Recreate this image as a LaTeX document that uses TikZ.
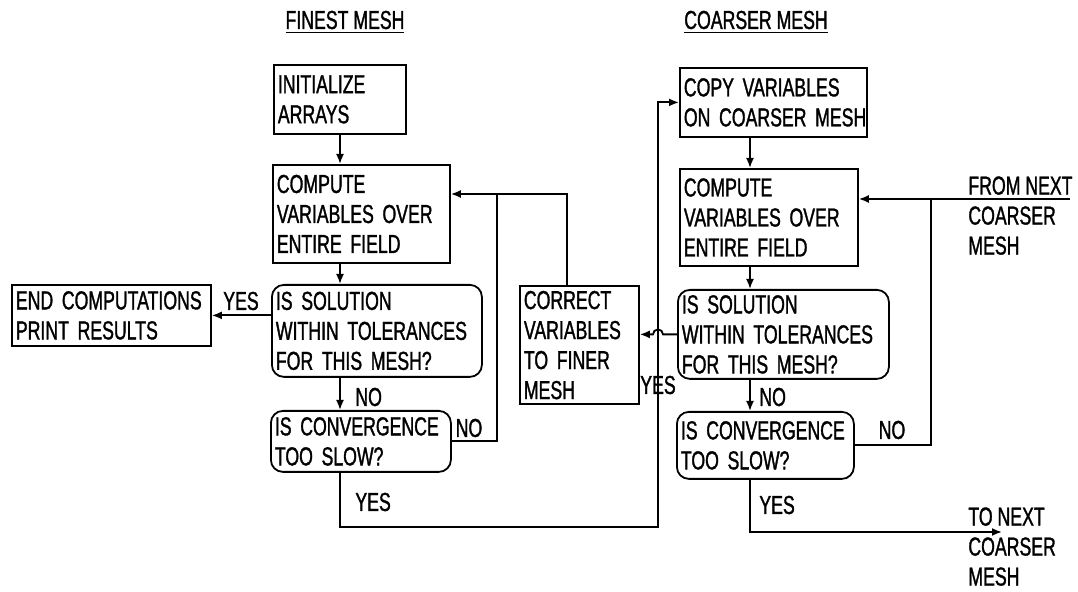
\documentclass[tikz,border=0pt]{standalone}
\usepackage{fontspec}
\newfontfamily\meshfont{Liberation Sans}[FakeStretch=0.68,FakeBold=1.2]
\newcommand\meshtext{\meshfont\fontsize{13pt}{15pt}\selectfont\hyphenpenalty=10000\relax}
\usetikzlibrary{arrows.meta,calc}

\begin{document}
\begin{tikzpicture}[
  x=0.5pt, y=-0.5pt,
  box/.style={draw, line width=0.9pt, anchor=north west, align=left,
              inner xsep=2pt, inner ysep=2.5pt, font=\meshtext},
  query/.style={box, rounded corners=6pt},
  note/.style={font=\meshtext, inner sep=0pt},
  arrow/.style={-{Latex[length=5pt,width=4pt]}, line width=0.9pt},
  link/.style={line width=0.9pt}
]
\useasboundingbox (0,0) rectangle (1078,592);
% column headings
\node[note] (hfine) at (345,22) {\underline{FINEST MESH}};
\node[note] (hcoarse) at (756,22) {\underline{COARSER MESH}};

% finest mesh
\node[box, text width=62pt, minimum height=34.5pt] (init) at (273,64) {INITIALIZE\\ARRAYS};
\node[box, text width=84.5pt, minimum height=49pt] (compf) at (272,164) {COMPUTE\\VARIABLES~OVER\\ENTIRE~FIELD};
\node[query, text width=101pt, minimum height=46pt] (solf) at (271,284) {IS~SOLUTION\\WITHIN~TOLERANCES\\FOR~THIS~MESH?};
\node[query, text width=86pt, minimum height=30.5pt] (convf) at (270,410) {IS~CONVERGENCE\\TOO~SLOW?};
\node[box, text width=95.5pt, minimum height=30.5pt] (endc) at (11,284) {END~COMPUTATIONS\\PRINT~RESULTS};
\node[box, text width=55.5pt, minimum height=58.5pt] (corr) at (519,285) {CORRECT\\VARIABLES\\TO~FINER\\MESH};

% coarser mesh
\node[box, text width=89.5pt, minimum height=34.5pt] (copy) at (679,67) {COPY~VARIABLES\\ON~COARSER~MESH};
\node[box, text width=85pt, minimum height=48.5pt] (compc) at (679,168) {COMPUTE\\VARIABLES~OVER\\ENTIRE~FIELD};
\node[query, text width=101.5pt, minimum height=44.5pt] (solc) at (677,289) {IS~SOLUTION\\WITHIN~TOLERANCES\\FOR~THIS~MESH?};
\node[query, text width=84.5pt, minimum height=33.5pt] (convc) at (676,411) {IS~CONVERGENCE\\TOO~SLOW?};
\node[note, align=left, anchor=north west] (fromnext) at (968,176) {FROM NEXT\\COARSER\\MESH};
\node[note, align=left, anchor=north west] (tonext) at (968,507) {TO NEXT\\COARSER\\MESH};

% branch labels
\node[note] (yes1) at (241,301) {YES};
\node[note, anchor=west] (no1) at (355,397) {NO};
\node[note] (no2) at (469,428) {NO};
\node[note, anchor=west] (yes2) at (355,502) {YES};
\node[note] (yes3) at (658,385) {YES};
\node[note, anchor=west] (no3) at (759,397) {NO};
\node[note] (no4) at (892,430) {NO};
\node[note, anchor=west] (yes4) at (759,505) {YES};

% flow lines
\coordinate (colf) at (340,0);
\coordinate (colc) at (750,0);
\coordinate (fjoin) at (497,194);
\coordinate (fback) at (567,194);
\coordinate (yesloop) at (658,527);
\coordinate (cjoin) at (931,199);
\coordinate (cin) at (1070,199);
\coordinate (cout) at (1002,532);

\draw[arrow] (init.south -| colf) -- (compf.north -| colf);
\draw[arrow] (compf.south -| colf) -- (solf.north -| colf);
\draw[arrow] (solf.south -| colf) -- (convf.north -| colf);
\draw[arrow] (solf.west |- endc.east) -- (endc.east);
\draw[link] (convf.east) -| (fjoin);
\draw[arrow] (corr.north -| fback) -- (fback) -- (compf.east |- fback);
\draw[arrow] (convf.south -| colf) |- (yesloop) |- (copy.west);

\draw[arrow] (copy.south -| colc) -- (compc.north -| colc);
\draw[arrow] (compc.south -| colc) -- (solc.north -| colc);
\draw[arrow] (solc.south -| colc) -- (convc.north -| colc);
\draw[arrow] (solc.west) -- ($(yesloop |- solc.west)+(2.5pt,0)$)
  arc[start angle=0, end angle=180, radius=2.5pt] -- (corr.east |- solc.west);
\draw[arrow] (cin) -- (compc.east |- cin);
\draw[link] (convc.east) -| (cjoin);
\draw[arrow] (convc.south -| colc) |- (cout);
\end{tikzpicture}
\end{document}
